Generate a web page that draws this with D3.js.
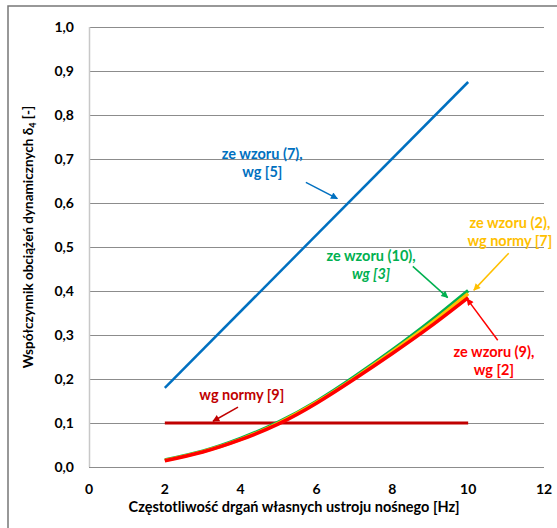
<!DOCTYPE html>
<meta charset="utf-8">
<style>
body { margin: 0; background: #fff; }
text { font-family: Lato, "Open Sans", sans-serif; font-weight: bold; }
.grid line { stroke: #8c8c8c; stroke-width: 1px; }
</style>
<body>
<script src="https://cdnjs.cloudflare.com/ajax/libs/d3/7.8.5/d3.min.js"></script>
<script>

// data
var xTicks = [0, 2, 4, 6, 8, 10, 12];
var yTicks = [0, 0.1, 0.2, 0.3, 0.4, 0.5, 0.6, 0.7, 0.8, 0.9, 1.0];

var freqEnds = [2, 10];
var wzor7 = [0.18, 0.875];     // ze wzoru (7), wg [5]
var norma9 = [0.1, 0.1];       // wg normy [9]

var freq = [2, 3, 4, 5, 6, 7, 8, 9, 10];
var wzor10 = [0.016, 0.036, 0.065, 0.102, 0.149, 0.205, 0.266, 0.331, 0.401];  // ze wzoru (10), wg [3]
var wzor2  = [0.015, 0.035, 0.063, 0.100, 0.147, 0.202, 0.262, 0.325, 0.394];  // ze wzoru (2), wg normy [7]
var wzor9  = [0.014, 0.034, 0.062, 0.098, 0.145, 0.200, 0.258, 0.319, 0.385];  // ze wzoru (9), wg [2]

// set the dimensions and margins of the graph
var width = 557, height = 528;
var plot = {left: 89, right: 544, top: 27, bottom: 467};

var x = d3.scaleLinear().domain([0, 12]).range([plot.left, plot.right]);
var y = d3.scaleLinear().domain([0, 1]).range([plot.bottom, plot.top]);

var svg = d3.select("body").append("svg")
    .attr("width", width)
    .attr("height", height);

var defs = svg.append("defs");
function marker(id, color) {
  defs.append("marker")
      .attr("id", id)
      .attr("viewBox", "0 0 10 10")
      .attr("refX", 9).attr("refY", 5)
      .attr("markerWidth", 9).attr("markerHeight", 7)
      .attr("markerUnits", "userSpaceOnUse")
      .attr("orient", "auto")
    .append("path")
      .attr("d", "M0,0 L10,5 L0,10 z")
      .attr("fill", color);
}

// outer frame
svg.append("path")
    .attr("d", "M8,528 L8,6 L557,6")
    .attr("fill", "none")
    .attr("stroke", "#777")
    .attr("stroke-width", 1.5);

// gridlines
svg.append("g").attr("class", "grid")
  .selectAll("line").data(yTicks).join("line")
    .attr("x1", plot.left).attr("x2", plot.right)
    .attr("y1", d => Math.round(y(d)) + 0.5).attr("y2", d => Math.round(y(d)) + 0.5);

// left axis line
svg.append("line")
    .attr("x1", plot.left + 0.5).attr("x2", plot.left + 0.5)
    .attr("y1", plot.top).attr("y2", plot.bottom)
    .attr("stroke", "#c8c8c8").attr("stroke-width", 1.5);

// y tick labels
svg.append("g")
  .selectAll("text").data(yTicks).join("text")
    .attr("x", 74)
    .attr("y", d => y(d) + 5)
    .attr("text-anchor", "end")
    .attr("font-size", 14)
    .attr("fill", "#000")
    .text(d => d3.format(".1f")(d).replace(".", ","));

// x tick labels
svg.append("g")
  .selectAll("text").data(xTicks).join("text")
    .attr("x", d => x(d))
    .attr("y", 494)
    .attr("text-anchor", "middle")
    .attr("font-size", 14)
    .attr("fill", "#000")
    .text(d => d);

// axis titles
svg.append("text")
    .attr("x", 294).attr("y", 512)
    .attr("text-anchor", "middle")
    .attr("font-size", 14.5)
    .text("Częstotliwość drgań własnych ustroju nośnego [Hz]");

var yt = svg.append("text")
    .attr("transform", "translate(33,237) rotate(-90)")
    .attr("text-anchor", "middle")
    .attr("font-size", 13.5);
yt.append("tspan").text("Współczynnik obciążeń dynamicznych δ");
yt.append("tspan").attr("font-size", 9).attr("dy", 3).text("4");
yt.append("tspan").attr("dy", -3).text(" [-]");

// lines
var line = d3.line()
    .x(d => x(d[0]))
    .y(d => y(d[1]))
    .curve(d3.curveNatural);

function series(xs, ys, color, w) {
  svg.append("path")
      .datum(d3.zip(xs, ys))
      .attr("fill", "none")
      .attr("stroke", color)
      .attr("stroke-width", w)
      .attr("d", line);
}

series(freqEnds, wzor7, "#0070c0", 2.5);
series(freqEnds, norma9, "#c00000", 3);
series(freq, wzor10, "#00b050", 3.5);
series(freq, wzor2, "#ffc000", 3.5);
series(freq, wzor9, "#ff0000", 3.5);

// annotations (positions in data units)
var notes = [
  {lines: ["ze wzoru (7),", "wg [5]"], italic: [false, false], color: "#0070c0", tx: 4.57, ty: 0.70,
   from: [5.72, 0.647], to: [6.55, 0.61]},
  {lines: ["ze wzoru (10),", "wg [3]"], italic: [false, true], color: "#00b050", tx: 7.44, ty: 0.468,
   from: [8.54, 0.456], to: [9.46, 0.385]},
  {lines: ["ze wzoru (2),", "wg normy [7]"], italic: [false, false], color: "#ffc000", tx: 11.1, ty: 0.544,
   from: [11.07, 0.486], to: [10.15, 0.402]},
  {lines: ["ze wzoru (9),", "wg [2]"], italic: [false, false], color: "#ff0000", tx: 10.68, ty: 0.25,
   from: [10.78, 0.288], to: [9.97, 0.382]},
  {lines: ["wg normy [9]"], italic: [false], color: "#c00000", tx: 4.03, ty: 0.152,
   from: [3.93, 0.136], to: [3.27, 0.104]}
];

notes.forEach(function(n) {
  var id = "m" + n.color.slice(1);
  if (defs.select("#" + id).empty()) marker(id, n.color);
  n.lines.forEach(function(t, i) {
    svg.append("text")
        .attr("x", x(n.tx))
        .attr("y", y(n.ty) + i * 18)
        .attr("text-anchor", "middle")
        .attr("font-size", 14.5)
        .attr("font-style", n.italic[i] ? "italic" : "normal")
        .attr("fill", n.color)
        .text(t);
  });
  svg.append("line")
      .attr("x1", x(n.from[0])).attr("y1", y(n.from[1]))
      .attr("x2", x(n.to[0])).attr("y2", y(n.to[1]))
      .attr("stroke", n.color)
      .attr("stroke-width", 1.5)
      .attr("marker-end", "url(#" + id + ")");
});

</script>
</body>
